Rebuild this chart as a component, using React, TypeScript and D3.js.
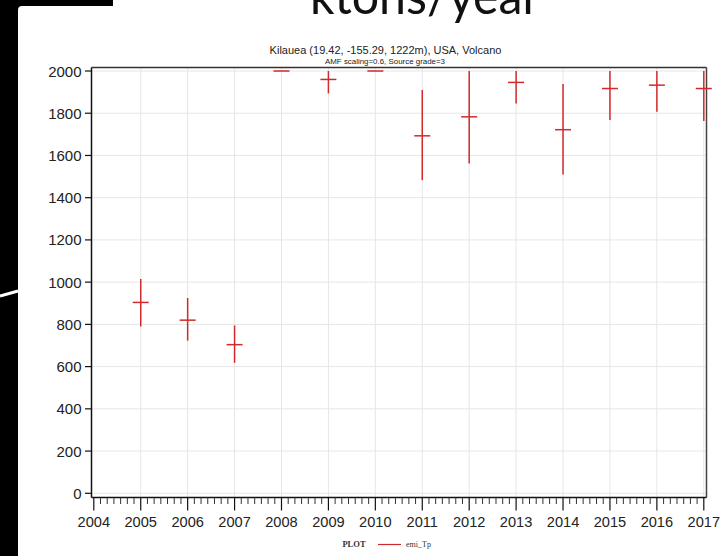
import React from "react";
import * as d3 from "d3";

const years = [2005, 2006, 2007, 2008, 2009, 2010, 2011, 2012, 2013, 2014, 2015, 2016, 2017];
const emiValues = [904, 820, 704, 2000, 1960, 2000, 1693, 1783, 1946, 1722, 1917, 1933, 1917];
const emiLow = [790, 723, 618, 2000, 1894, 2000, 1483, 1562, 1846, 1510, 1768, 1807, 1763];
const emiHigh = [1015, 925, 795, 2000, 2000, 2000, 1910, 2000, 2000, 1938, 2000, 2000, 2000];
const yTicks = [0, 200, 400, 600, 800, 1000, 1200, 1400, 1600, 1800, 2000];
const xTicks = [2004, 2005, 2006, 2007, 2008, 2009, 2010, 2011, 2012, 2013, 2014, 2015, 2016, 2017];

const W = 720;
const H = 556;

export default function App() {
  const x = d3.scaleLinear().domain([2004, 2017]).range([93.8, 703.8]);
  const y = d3.scaleLinear().domain([0, 2000]).range([493.3, 71]);
  const left = 91.5, right = 706.5, top = 67.5, bottom = 497.5;
  const minorTicks: number[] = [];
  for (let yr = 2004; yr < 2017; yr++) {
    for (let k = 1; k < 7; k++) minorTicks.push(yr + k / 7);
  }
  const red = "#d22a2a";
  const font = "Liberation Sans, Arial, sans-serif";
  return (
    <svg width={W} height={H} style={{ position: "absolute", left: 0, top: 0, display: "block" }}>
      <rect x={0} y={0} width={W} height={H} fill="#ffffff" />
      <rect x={0} y={0} width={18} height={H} fill="#000" />
      <rect x={0} y={0} width={113} height={6} fill="#000" />
      <path d="M18,6 L22,6 Q18,6 18,10 Z" fill="#000" />
      <line x1={0} y1={296} x2={18} y2={291} stroke="#fff" strokeWidth={3} />

      <text x={425} y={14} fontFamily="Lato, Open Sans, sans-serif" fontSize={50} textAnchor="middle"
        textLength={230} lengthAdjust="spacingAndGlyphs" fill="#111">ktons/year</text>

      <text x={385.5} y={54} fontFamily={font} fontSize={11} textAnchor="middle" fill="#222">
        Kilauea (19.42, -155.29, 1222m), USA, Volcano
      </text>
      <text x={385} y={63.5} fontFamily={font} fontSize={6.5} textAnchor="middle" fill="#222"
        textLength={120} lengthAdjust="spacingAndGlyphs">AMF scaling=0.6, Source grade=3</text>

      {/* grid */}
      {yTicks.map((t) => (
        <line key={"gy" + t} x1={left} x2={right} y1={y(t)} y2={y(t)} stroke="#e6e6e6" strokeWidth={1} />
      ))}
      {xTicks.slice(1).map((t) => (
        <line key={"gx" + t} x1={x(t)} x2={x(t)} y1={top} y2={bottom} stroke="#e6e6e6" strokeWidth={1} />
      ))}

      {/* frame */}
      <line x1={left} x2={right} y1={top} y2={top} stroke="#333" strokeWidth={1.5} />
      <line x1={right} x2={right} y1={top} y2={bottom} stroke="#444" strokeWidth={1.5} />
      <line x1={left} x2={left} y1={top} y2={bottom} stroke="#111" strokeWidth={1.5} />
      <line x1={left} x2={right} y1={bottom} y2={bottom} stroke="#111" strokeWidth={1.5} />

      {/* y axis */}
      {yTicks.map((t) => (
        <g key={"ty" + t}>
          <line x1={85} x2={left} y1={y(t)} y2={y(t)} stroke="#111" strokeWidth={1.2} />
          <text x={81.5} y={y(t) + 5.5} fontFamily={font} fontSize={15} textAnchor="end" fill="#222">{t}</text>
        </g>
      ))}

      {/* x axis */}
      {minorTicks.map((t, i) => (
        <line key={"mx" + i} x1={x(t)} x2={x(t)} y1={bottom} y2={504} stroke="#333" strokeWidth={1} />
      ))}
      {xTicks.map((t) => (
        <g key={"tx" + t}>
          <line x1={x(t)} x2={x(t)} y1={bottom} y2={510.5} stroke="#111" strokeWidth={1.2} />
          <text x={x(t)} y={527} fontFamily={font} fontSize={14.6} textAnchor="middle" fill="#222">{t}</text>
        </g>
      ))}

      {/* error crosses */}
      {years.map((yr, i) => (
        <g key={"d" + yr}>
          {emiHigh[i] > emiLow[i] && (
            <line x1={x(yr)} x2={x(yr)} y1={y(emiHigh[i])} y2={y(emiLow[i])} stroke={red} strokeWidth={1.5} />
          )}
          <line x1={x(yr) - 8} x2={x(yr) + 8} y1={y(emiValues[i])} y2={y(emiValues[i])} stroke={red} strokeWidth={1.5} />
        </g>
      ))}

      {/* legend */}
      <text x={354} y={547} fontFamily="Liberation Serif, DejaVu Serif, serif" fontWeight="bold" fontSize={8.5}
        textAnchor="middle" fill="#333">PLOT</text>
      <line x1={378} x2={401} y1={544.5} y2={544.5} stroke={red} strokeWidth={1.2} />
      <text x={406} y={547} fontFamily="Liberation Serif, DejaVu Serif, serif" fontSize={8} fill="#333">emi_Tp</text>
    </svg>
  );
}
